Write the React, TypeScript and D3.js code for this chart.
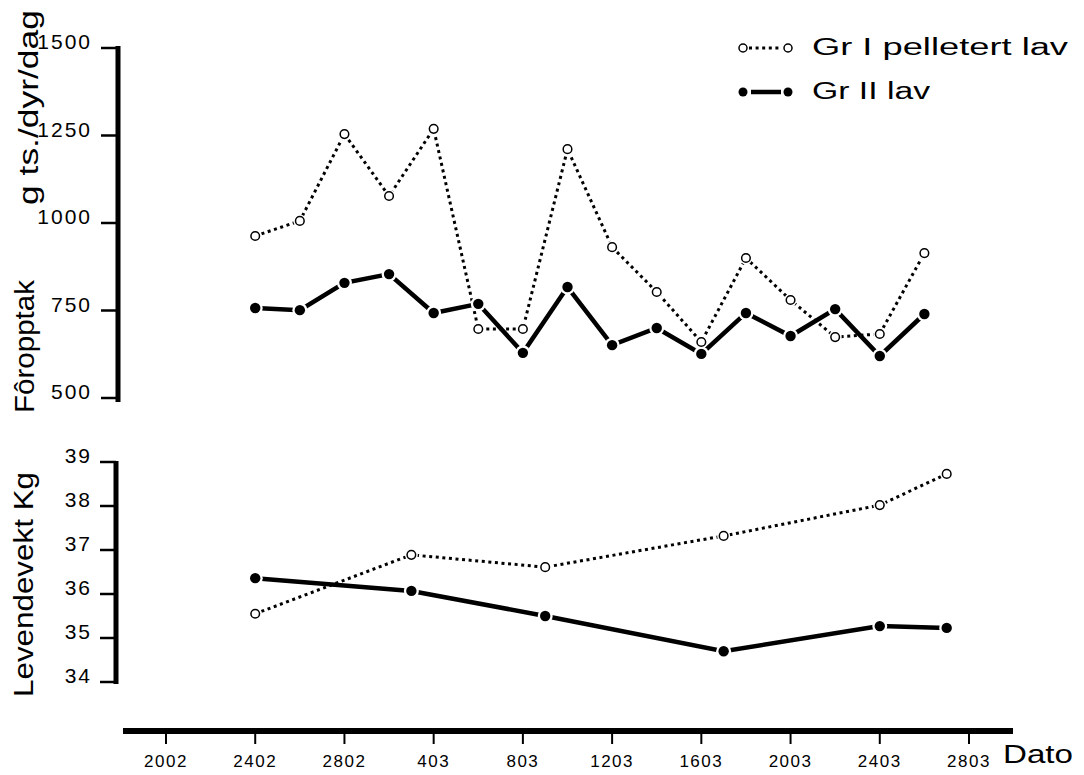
import React from "react";
import * as d3 from "d3";

// X axis: day offsets from 20 Feb, with printed date labels
const tickDays = [0, 4, 8, 12, 16, 20, 24, 28, 32, 36];
const tickLabels = ["2002", "2402", "2802", "403", "803", "1203", "1603", "2003", "2403", "2803"];

// Upper panel: feed intake (g ts./dyr/dag)
const intakeDays = [4, 6, 8, 10, 12, 14, 16, 18, 20, 22, 24, 26, 28, 30, 32, 34];
const intakeGrI = [963, 1006, 1254, 1077, 1269, 697, 697, 1211, 931, 803, 660, 900, 780, 674, 683, 914];
const intakeGrII = [757, 751, 829, 854, 743, 769, 629, 817, 651, 700, 626, 743, 677, 754, 620, 740];
const intakeTicks = [500, 750, 1000, 1250, 1500];

// Lower panel: live weight (kg)
const weightDays = [4, 11, 17, 25, 32, 35];
const weightGrI = [35.55, 36.89, 36.61, 37.32, 38.02, 38.73];
const weightGrII = [36.36, 36.07, 35.5, 34.7, 35.27, 35.23];
const weightTicks = [34, 35, 36, 37, 38, 39];

const FONT = "'Liberation Sans', Arial, Helvetica, sans-serif";

export default function App() {
  const x = d3.scaleLinear().domain([0, 36]).range([166, 969]);
  const yTop = d3.scaleLinear().domain([500, 1500]).range([398, 48]);
  const yBot = d3.scaleLinear().domain([34, 39]).range([682, 462]);

  const lineTop = (vals: number[]) =>
    d3.line<number>().x((_, i) => x(intakeDays[i])).y((v) => yTop(v))(vals) || "";
  const lineBot = (vals: number[]) =>
    d3.line<number>().x((_, i) => x(weightDays[i])).y((v) => yBot(v))(vals) || "";

  const openMarkers = (days: number[], vals: number[], y: (v: number) => number, key: string) =>
    vals.map((v, i) => (
      <g key={key + i}>
        <circle cx={x(days[i])} cy={y(v)} r={6.5} fill="#fff" />
        <circle cx={x(days[i])} cy={y(v)} r={4.3} fill="#fff" stroke="#000" strokeWidth={1.5} />
      </g>
    ));
  const filledMarkers = (days: number[], vals: number[], y: (v: number) => number, key: string) =>
    vals.map((v, i) => (
      <g key={key + i}>
        <circle cx={x(days[i])} cy={y(v)} r={7.5} fill="#fff" />
        <circle cx={x(days[i])} cy={y(v)} r={5.2} fill="#000" />
      </g>
    ));

  const dotted = { fill: "none", stroke: "#000", strokeWidth: 3, strokeDasharray: "3 3.6" };
  const solid = { fill: "none", stroke: "#000", strokeWidth: 4.5 };

  return (
    <div style={{ position: "absolute", left: 0, top: 0 }}>
      <svg width={1084} height={775} style={{ display: "block", background: "#fff" }} fontFamily={FONT}>
        {/* Upper y axis */}
        <line x1={118} x2={118} y1={46} y2={402} stroke="#000" strokeWidth={5} />
        {intakeTicks.map((t) => (
          <g key={"yt" + t}>
            <line x1={101} x2={118} y1={yTop(t)} y2={yTop(t)} stroke="#000" strokeWidth={2.5} />
            <text x={92} y={yTop(t) + 1} textAnchor="end" fontSize={21} letterSpacing={2}>
              {t}
            </text>
          </g>
        ))}
        <text transform="translate(34,413) rotate(-90)" fontSize={27} textLength={133} lengthAdjust="spacingAndGlyphs">
          Fôropptak
        </text>
        <text transform="translate(38,205) rotate(-90)" fontSize={27} textLength={195} lengthAdjust="spacingAndGlyphs">
          g ts./dyr/dag
        </text>

        {/* Lower y axis */}
        <line x1={116} x2={116} y1={461} y2={684} stroke="#000" strokeWidth={5} />
        {weightTicks.map((t) => (
          <g key={"yb" + t}>
            <line x1={100} x2={116} y1={yBot(t)} y2={yBot(t)} stroke="#000" strokeWidth={2.5} />
            <text x={92} y={yBot(t) + 1} textAnchor="end" fontSize={21} letterSpacing={2}>
              {t}
            </text>
          </g>
        ))}
        <text transform="translate(33,697) rotate(-90)" fontSize={27} textLength={225} lengthAdjust="spacingAndGlyphs">
          Levendevekt  Kg
        </text>

        {/* X axis */}
        <line x1={123} x2={1013} y1={731} y2={731} stroke="#000" strokeWidth={6} />
        {tickDays.map((d, i) => (
          <g key={"xt" + d}>
            <line x1={x(d)} x2={x(d)} y1={731} y2={744} stroke="#000" strokeWidth={2} />
            <text x={x(d)} y={767} textAnchor="middle" fontSize={17} letterSpacing={1.5}>
              {tickLabels[i]}
            </text>
          </g>
        ))}
        <text x={1003} y={763} fontSize={25} textLength={70} lengthAdjust="spacingAndGlyphs">
          Dato
        </text>

        {/* Upper panel series */}
        <path d={lineTop(intakeGrI)} {...dotted} />
        <path d={lineTop(intakeGrII)} {...solid} />
        {filledMarkers(intakeDays, intakeGrII, yTop, "tf")}
        {openMarkers(intakeDays, intakeGrI, yTop, "to")}

        {/* Lower panel series */}
        <path d={lineBot(weightGrI)} {...dotted} />
        <path d={lineBot(weightGrII)} {...solid} />
        {filledMarkers(weightDays, weightGrII, yBot, "bf")}
        {openMarkers(weightDays, weightGrI, yBot, "bo")}

        {/* Legend */}
        <line x1={749} x2={782} y1={48} y2={48} {...dotted} />
        <circle cx={743} cy={48} r={4} fill="#fff" stroke="#000" strokeWidth={1.5} />
        <circle cx={788} cy={48} r={4} fill="#fff" stroke="#000" strokeWidth={1.5} />
        <text x={812} y={55} fontSize={23} textLength={256} lengthAdjust="spacingAndGlyphs">
          Gr I  pelletert lav
        </text>
        <line x1={751} x2={781} y1={92} y2={92} stroke="#000" strokeWidth={4.5} />
        <circle cx={743} cy={92} r={4.5} fill="#000" />
        <circle cx={788} cy={92} r={4.5} fill="#000" />
        <text x={812} y={99} fontSize={23} textLength={118} lengthAdjust="spacingAndGlyphs">
          Gr II lav
        </text>
      </svg>
    </div>
  );
}
